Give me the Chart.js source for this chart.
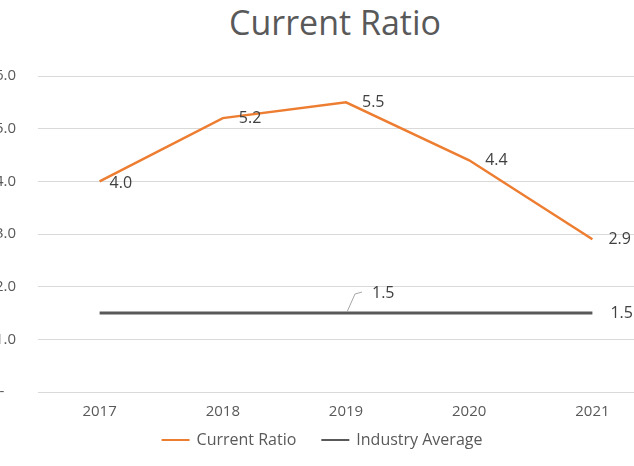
<!DOCTYPE html>
<html>
<head>
<meta charset="utf-8">
<title>Current Ratio</title>
<script src="https://cdn.jsdelivr.net/npm/chart.js@4.4.1/dist/chart.umd.min.js"></script>
<style>
  html, body { margin: 0; padding: 0; background: #fff; }
  body { width: 634px; height: 466px; position: relative; overflow: hidden; }
  #title {
    position: absolute; left: 0; top: 0; width: 670px;
    text-align: center; font-family: "Open Sans", sans-serif;
    font-size: 34px; color: #595959; line-height: 44px;
  }
  #wrap { position: absolute; left: -10px; top: 45px; width: 664px; height: 421px; }
</style>
</head>
<body>
<div id="title">Current Ratio</div>
<div id="wrap"><canvas id="ratioChart"></canvas></div>
<script>
const years = ['2017', '2018', '2019', '2020', '2021'];
const currentRatio = [4.0, 5.2, 5.5, 4.4, 2.9];
const industryAverage = [1.5, 1.5, 1.5, 1.5, 1.5];
const yTicks = [0, 1, 2, 3, 4, 5, 6];

const FONT = '"Open Sans", sans-serif';
const GREY = '#595959';

// value labels next to the points; the 2019 industry label sits up on a leader line
const valueLabels = {
  id: 'valueLabels',
  afterDatasetsDraw(chart, args, opts) {
    const ctx = chart.ctx;
    ctx.save();
    ctx.font = '16px ' + FONT;
    ctx.fillStyle = '#404040';
    ctx.textAlign = 'left';
    ctx.textBaseline = 'middle';
    chart.data.datasets.forEach((ds, i) => {
      const spots = opts.spots[i];
      chart.getDatasetMeta(i).data.forEach((pt, j) => {
        const s = spots[j];
        if (!s) return;
        if (s.leader) {
          ctx.strokeStyle = '#a6a6a6';
          ctx.lineWidth = 1;
          ctx.beginPath();
          ctx.moveTo(pt.x + 1, pt.y - 1);
          ctx.lineTo(pt.x + 9, pt.y - 19);
          ctx.lineTo(pt.x + 16, pt.y - 21);
          ctx.stroke();
        }
        ctx.fillText(ds.data[j].toFixed(1), pt.x + s.dx, pt.y + s.dy);
      });
    });
    ctx.restore();
  }
};

// simple line-swatch legend centred under the plot
const bottomLegend = {
  id: 'bottomLegend',
  afterDraw(chart, args, opts) {
    const ctx = chart.ctx;
    ctx.save();
    ctx.font = opts.size + 'px ' + FONT;
    ctx.textBaseline = 'middle';
    ctx.textAlign = 'left';
    const items = chart.data.datasets.map(ds => ({ text: ds.label, color: ds.borderColor }));
    const widths = items.map(it => opts.lineLen + opts.textGap + ctx.measureText(it.text).width);
    const total = widths.reduce((a, b) => a + b, 0) + opts.itemGap * (items.length - 1);
    let x = chart.width / 2 - total / 2;
    const y = opts.y;
    items.forEach((it, i) => {
      ctx.strokeStyle = it.color;
      ctx.lineWidth = 2;
      ctx.beginPath();
      ctx.moveTo(x, y);
      ctx.lineTo(x + opts.lineLen, y);
      ctx.stroke();
      ctx.fillStyle = GREY;
      ctx.fillText(it.text, x + opts.lineLen + opts.textGap, y);
      x += widths[i] + opts.itemGap;
    });
    ctx.restore();
  }
};

new Chart(document.getElementById('ratioChart'), {
  type: 'line',
  data: {
    labels: years,
    datasets: [
      {
        label: 'Current Ratio',
        data: currentRatio,
        borderColor: '#ED7D31',
        backgroundColor: '#ED7D31',
        borderWidth: 2.5,
        pointRadius: 0,
        tension: 0
      },
      {
        label: 'Industry Average',
        data: industryAverage,
        borderColor: '#595959',
        backgroundColor: '#595959',
        borderWidth: 3,
        pointRadius: 0,
        tension: 0
      }
    ]
  },
  options: {
    responsive: true,
    maintainAspectRatio: false,
    animation: false,
    layout: { padding: { top: 30, bottom: 42, left: 0, right: 0 } },
    plugins: {
      legend: { display: false },
      title: { display: false },
      tooltip: { enabled: false },
      valueLabels: {
        spots: [
          [{ dx: 10, dy: 2 }, { dx: 16, dy: 0 }, { dx: 16, dy: 0 }, { dx: 16, dy: 0 }, { dx: 16, dy: 0 }],
          [null, null, { dx: 26, dy: -20, leader: true }, null, { dx: 18, dy: 0 }]
        ]
      },
      bottomLegend: { y: 395, size: 16, lineLen: 28, textGap: 7, itemGap: 25 }
    },
    scales: {
      x: {
        offset: true,
        grid: { display: false },
        border: { display: false },
        ticks: { color: GREY, font: { family: FONT, size: 15 }, padding: 3 }
      },
      y: {
        min: 0,
        max: 6,
        afterFit: s => { s.width = 48; },
        afterBuildTicks: s => { s.ticks = yTicks.map(v => ({ value: v })); },
        grid: { color: '#d9d9d9', lineWidth: 1, drawTicks: false },
        border: { display: false },
        ticks: {
          color: GREY,
          font: { family: FONT, size: 15 },
          padding: 22,
          callback: v => v === 0 ? '-   ' : v.toFixed(1)
        }
      }
    }
  },
  plugins: [valueLabels, bottomLegend]
});
</script>
</body>
</html>
